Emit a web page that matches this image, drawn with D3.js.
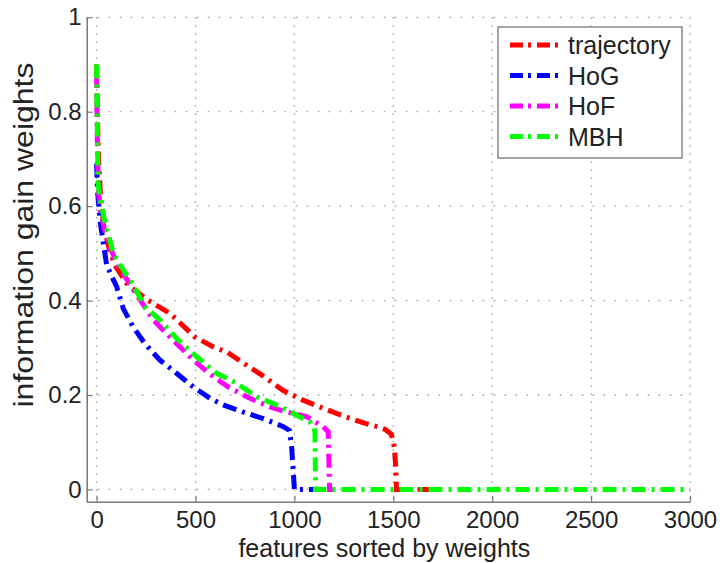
<!DOCTYPE html>
<html>
<head>
<meta charset="utf-8">
<script src="https://cdn.jsdelivr.net/npm/d3@7"></script>
<style>
  body { margin: 0; background: #fff; }
  text { font-family: "Liberation Sans", Arial, sans-serif; fill: #222; }
</style>
</head>
<body>
<div id="chart"></div>
<script>
// series: feature index (x) and info gain weight (y)
const trajX = [0, 2, 5, 10, 20, 40, 70, 100, 158, 259, 371, 497, 598, 659, 740, 836, 942, 1043, 1144, 1265, 1357, 1420, 1460, 1490, 1505, 1512, 1516, 1760]
const trajY = [0.90, 0.85, 0.78, 0.70, 0.62, 0.55, 0.50, 0.47, 0.433, 0.401, 0.373, 0.323, 0.300, 0.291, 0.268, 0.242, 0.210, 0.189, 0.172, 0.153, 0.140, 0.133, 0.127, 0.117, 0.09, 0.05, 0, 0]

const hogX = [0, 5, 17, 33, 51, 84, 101, 135, 185, 244, 320, 404, 489, 573, 640, 741, 842, 944, 975, 986, 994, 1000, 1130]
const hogY = [0.69, 0.63, 0.571, 0.525, 0.475, 0.445, 0.43, 0.383, 0.344, 0.309, 0.274, 0.246, 0.217, 0.193, 0.179, 0.164, 0.150, 0.133, 0.125, 0.09, 0.041, 0, 0]

const hofX = [0, 2, 5, 10, 20, 40, 67, 100, 177, 286, 371, 489, 581, 665, 775, 876, 961, 1062, 1146, 1171, 1175, 1178, 1200]
const hofY = [0.88, 0.80, 0.70, 0.63, 0.59, 0.55, 0.515, 0.48, 0.429, 0.359, 0.323, 0.274, 0.242, 0.217, 0.193, 0.175, 0.164, 0.154, 0.133, 0.122, 0.05, 0, 0]

const mbhX = [0, 2, 5, 8, 15, 25, 42, 67, 84, 135, 185, 244, 320, 404, 506, 607, 708, 809, 910, 994, 1078, 1100, 1104, 1107, 3000]
const mbhY = [0.90, 0.82, 0.72, 0.648, 0.62, 0.60, 0.567, 0.528, 0.50, 0.465, 0.433, 0.387, 0.359, 0.32, 0.281, 0.246, 0.225, 0.196, 0.179, 0.161, 0.143, 0.13, 0.12, 0, 0]

const seriesNames = ["trajectory", "HoG", "HoF", "MBH"]
const seriesColors = ["#ff0000", "#0000ff", "#ff00ff", "#00ff00"]
const xTicks = [0, 500, 1000, 1500, 2000, 2500, 3000]
const yTicks = [0, 0.2, 0.4, 0.6, 0.8, 1]

const series = [
  { name: seriesNames[0], color: seriesColors[0], xs: trajX, ys: trajY },
  { name: seriesNames[1], color: seriesColors[1], xs: hogX, ys: hogY },
  { name: seriesNames[2], color: seriesColors[2], xs: hofX, ys: hofY },
  { name: seriesNames[3], color: seriesColors[3], xs: mbhX, ys: mbhY }
]

const W = 720, H = 563
const pLeft = 86.7, pRight = 690, pTop = 17.3, pBottom = 501.7

const svg = d3.select("#chart").append("svg")
  .attr("width", W)
  .attr("height", H)

svg.append("rect").attr("width", W).attr("height", H).attr("fill", "#fff")

const x = d3.scaleLinear().domain([-50, 3000]).range([pLeft, pRight])
const y = d3.scaleLinear().domain([-0.026, 1]).range([pBottom, pTop])

// dotted grid
const grid = svg.append("g").attr("stroke", "#9a9a9a").attr("stroke-width", 1.3)
grid.selectAll(".gx").data(xTicks).enter().append("line")
  .attr("x1", d => x(d)).attr("x2", d => x(d))
  .attr("y1", pTop).attr("y2", pBottom)
  .attr("stroke-dasharray", "1.5,6.5")
grid.selectAll(".gy").data(yTicks).enter().append("line")
  .attr("y1", d => y(d)).attr("y2", d => y(d))
  .attr("x1", pLeft).attr("x2", pRight)
  .attr("stroke-dasharray", "1.5,9.5")

// axes, MATLAB style ticks pointing inwards
const xAxis = svg.append("g")
  .attr("transform", "translate(0," + pBottom + ")")
  .call(d3.axisBottom(x).tickValues(xTicks).tickSizeInner(-6).tickSizeOuter(0).tickPadding(9).tickFormat(d3.format("d")))
const yAxis = svg.append("g")
  .attr("transform", "translate(" + pLeft + ",0)")
  .call(d3.axisLeft(y).tickValues(yTicks).tickSizeInner(-6).tickSizeOuter(0).tickPadding(5).tickFormat(d => d === 0 || d === 1 ? d : d.toFixed(1)))

for (const ax of [xAxis, yAxis]) {
  ax.select(".domain").attr("stroke", "#777").attr("stroke-width", 1.5)
  ax.selectAll(".tick line").attr("stroke", "#777").attr("stroke-width", 1.2)
  ax.selectAll(".tick text")
    .attr("font-family", "Liberation Sans, Arial, sans-serif")
    .attr("font-size", 24).attr("fill", "#222")
}

// lines
const line = d3.line()
  .x(d => x(d[0]))
  .y(d => y(d[1]))

series.forEach(s => {
  svg.append("path")
    .datum(s.xs.map((v, i) => [v, s.ys[i]]))
    .attr("fill", "none")
    .attr("stroke", s.color)
    .attr("stroke-width", 5)
    .attr("stroke-dasharray", "14,6,3,6")
    .attr("d", line)
})

// legend
const lg = svg.append("g")
lg.append("rect")
  .attr("x", 498).attr("y", 27).attr("width", 184).attr("height", 131)
  .attr("fill", "#fff").attr("stroke", "#888").attr("stroke-width", 1.5)
series.forEach((s, i) => {
  const ly = 45 + i * 30.5
  lg.append("line")
    .attr("x1", 510).attr("x2", 562).attr("y1", ly).attr("y2", ly)
    .attr("stroke", s.color).attr("stroke-width", 5)
    .attr("stroke-dasharray", "13,5,3,6")
  lg.append("text")
    .attr("x", 568).attr("y", ly).attr("dy", "0.36em")
    .attr("font-size", 25)
    .text(s.name)
})

// axis titles
svg.append("text")
  .attr("x", (pLeft + pRight) / 2 - 4).attr("y", 557)
  .attr("text-anchor", "middle")
  .attr("font-size", 25)
  .text("features sorted by weights")

svg.append("text")
  .attr("transform", "translate(33,235) rotate(-90)")
  .attr("text-anchor", "middle")
  .attr("font-size", 27)
  .attr("textLength", 345)
  .attr("lengthAdjust", "spacingAndGlyphs")
  .text("information gain weights")
</script>
</body>
</html>
